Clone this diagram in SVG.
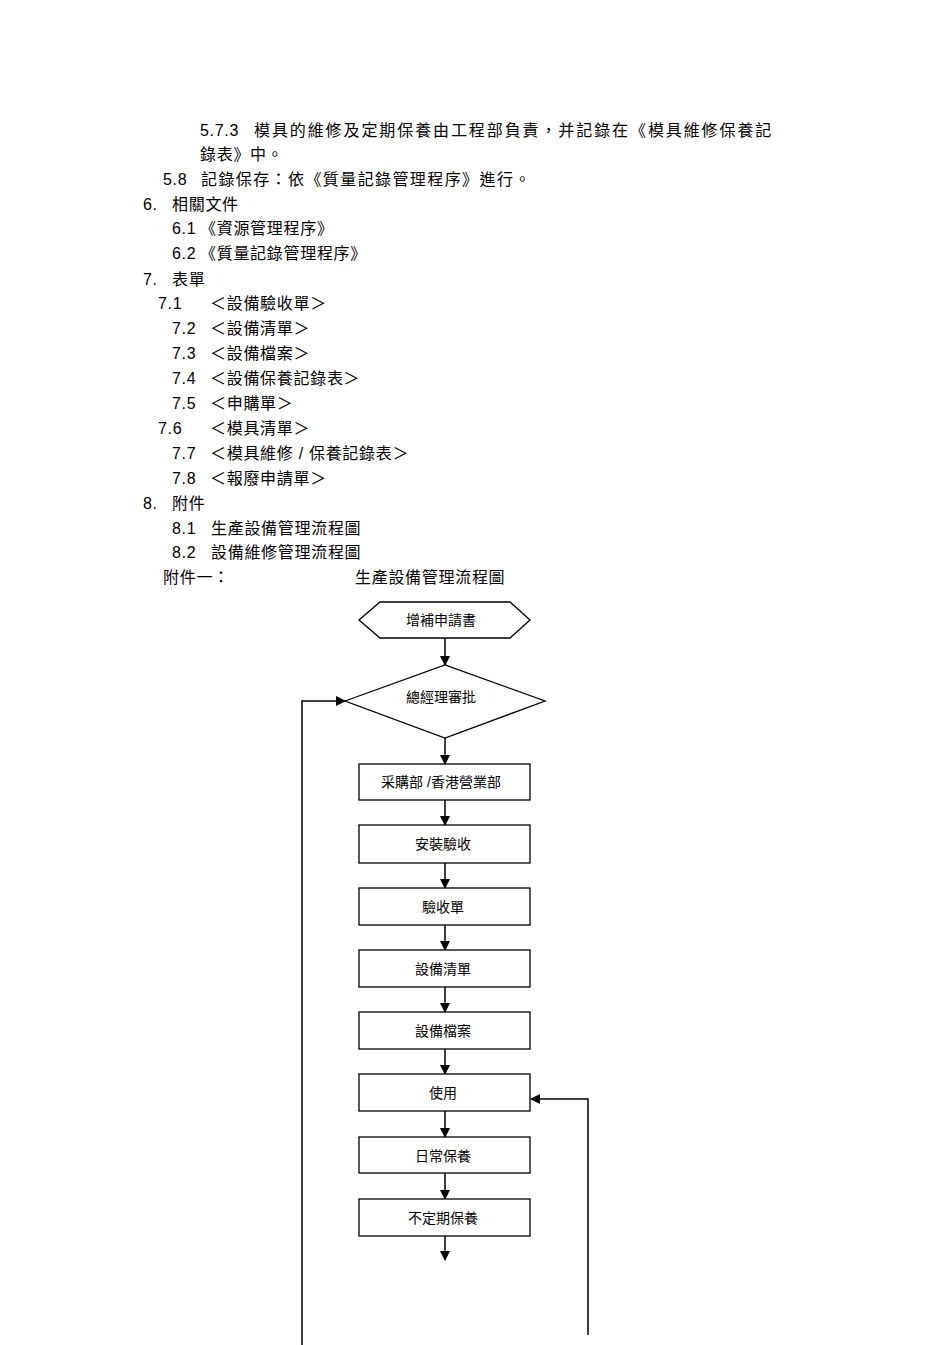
<svg xmlns="http://www.w3.org/2000/svg" width="950" height="1345" viewBox="0 0 950 1345">
<defs>
<marker id="ah" markerWidth="10" markerHeight="10" refX="9" refY="5" orient="auto" markerUnits="userSpaceOnUse"><path d="M0,0 L10,5 L0,10 z" fill="#000"/></marker>
<style>
text{font-family:"Liberation Sans","Noto Sans CJK TC",sans-serif;fill:#000}
.t{font-size:16px;letter-spacing:0.7px}
.n{font-size:14px;text-anchor:middle}
.s{fill:#fff;stroke:#000;stroke-width:1.3}
.c{fill:none;stroke:#000;stroke-width:1.5;marker-end:url(#ah)}
</style>
</defs>
<rect width="950" height="1345" fill="#fff"/>
<g id="text">
<text class="t" x="200" y="136">5.7.3</text><text class="t" x="254" y="136" textLength="518" lengthAdjust="spacing">模具的維修及定期保養由工程部負責，并記錄在《模具維修保養記</text>
<text class="t" x="200" y="160">錄表》中。</text>
<text class="t" x="163" y="185">5.8</text><text class="t" x="201" y="185" textLength="330" lengthAdjust="spacing">記錄保存：依《質量記錄管理程序》進行。</text>
<text class="t" x="143" y="210">6.</text><text class="t" x="172" y="210">相關文件</text>
<text class="t" x="172" y="234">6.1</text><text class="t" x="200" y="234">《資源管理程序》</text>
<text class="t" x="172" y="259">6.2</text><text class="t" x="200" y="259">《質量記錄管理程序》</text>
<text class="t" x="143" y="285">7.</text><text class="t" x="172" y="285">表單</text>
<text class="t" x="158" y="309">7.1</text><text class="t" x="210" y="309">＜設備驗收單＞</text>
<text class="t" x="172" y="334">7.2</text><text class="t" x="210" y="334">＜設備清單＞</text>
<text class="t" x="172" y="359">7.3</text><text class="t" x="210" y="359">＜設備檔案＞</text>
<text class="t" x="172" y="384">7.4</text><text class="t" x="210" y="384">＜設備保養記錄表＞</text>
<text class="t" x="172" y="409">7.5</text><text class="t" x="210" y="409">＜申購單＞</text>
<text class="t" x="158" y="434">7.6</text><text class="t" x="210" y="434">＜模具清單＞</text>
<text class="t" x="172" y="459">7.7</text><text class="t" x="210" y="459" xml:space="preserve">＜模具維修 / 保養記錄表＞</text>
<text class="t" x="172" y="484">7.8</text><text class="t" x="210" y="484">＜報廢申請單＞</text>
<text class="t" x="143" y="509">8.</text><text class="t" x="172" y="509">附件</text>
<text class="t" x="172" y="534">8.1</text><text class="t" x="211" y="534">生產設備管理流程圖</text>
<text class="t" x="172" y="558">8.2</text><text class="t" x="211" y="558">設備維修管理流程圖</text>
<text class="t" x="163" y="583">附件一：</text>
<text class="t" x="355" y="583">生產設備管理流程圖</text>
</g>
<g id="connectors">
<line class="c" x1="445" y1="638" x2="445" y2="665"/>
<line class="c" x1="445" y1="738" x2="445" y2="764"/>
<line class="c" x1="445" y1="800" x2="445" y2="825"/>
<line class="c" x1="445" y1="863" x2="445" y2="888"/>
<line class="c" x1="445" y1="925" x2="445" y2="950"/>
<line class="c" x1="445" y1="987" x2="445" y2="1012"/>
<line class="c" x1="445" y1="1049" x2="445" y2="1074"/>
<line class="c" x1="445" y1="1111" x2="445" y2="1137"/>
<line class="c" x1="445" y1="1173" x2="445" y2="1199"/>
<line class="c" x1="445" y1="1236" x2="445" y2="1260"/>
<polyline class="c" points="302,1345 302,701 345,701"/>
<polyline class="c" points="588,1335 588,1099 531,1099"/>
</g>
<g id="n1"><polygon class="s" points="359,620 380,602 510,602 530,620 510,638 380,638"/><text class="n" x="441" y="625">增補申請書</text></g>
<g id="n2"><polygon class="s" points="345,701 445,665 545,701 445,738"/><text class="n" x="441" y="702">總經理審批</text></g>
<g id="n3"><rect class="s" x="359" y="764" width="171" height="36"/><text class="n" x="441" y="787" xml:space="preserve">采購部 /香港營業部</text></g>
<g id="n4"><rect class="s" x="359" y="825" width="171" height="38"/><text class="n" x="443" y="849">安裝驗收</text></g>
<g id="n5"><rect class="s" x="359" y="888" width="171" height="37"/><text class="n" x="443" y="912">驗收單</text></g>
<g id="n6"><rect class="s" x="359" y="950" width="171" height="37"/><text class="n" x="443" y="974">設備清單</text></g>
<g id="n7"><rect class="s" x="359" y="1012" width="171" height="37"/><text class="n" x="443" y="1036">設備檔案</text></g>
<g id="n8"><rect class="s" x="359" y="1074" width="171" height="37"/><text class="n" x="443" y="1098">使用</text></g>
<g id="n9"><rect class="s" x="359" y="1137" width="171" height="36"/><text class="n" x="443" y="1161">日常保養</text></g>
<g id="n10"><rect class="s" x="359" y="1199" width="171" height="37"/><text class="n" x="443" y="1223">不定期保養</text></g>
</svg>
